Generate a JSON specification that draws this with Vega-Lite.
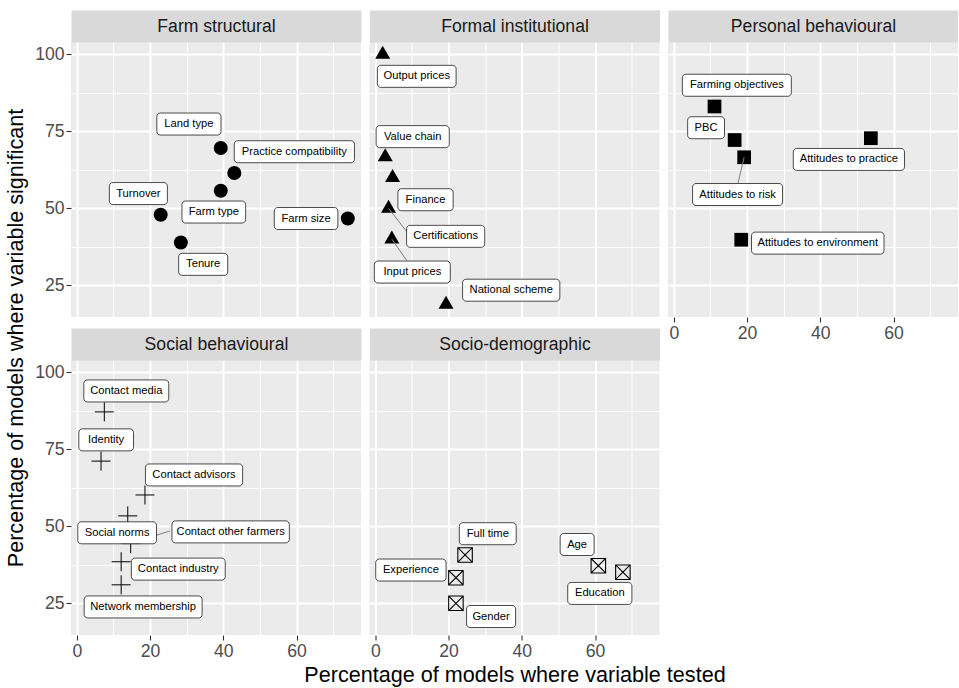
{
  "$schema": "https://vega.github.io/schema/vega-lite/v6.json",
  "padding": {"left": 0, "top": 17, "right": 0, "bottom": 0},
  "spacing": 0,
  "config": {
    "font": "Liberation Sans",
    "view": {"stroke": null},
    "axis": {
      "labelFont": "Liberation Sans", "titleFont": "Liberation Sans",
      "labelFontSize": 17.6, "labelColor": "#4D4D4D", "tickColor": "#333333",
      "tickSize": 5, "tickWidth": 1.1, "gridColor": "#FFFFFF", "domain": false,
      "labelFlush": false, "labelOverlap": false, "labelPadding": 2,
      "titleFontWeight": "normal"
    }
  },
  "datasets": {
    "pts": [
      {"cat": "Farm structural", "label": "Land type", "x": 39.3, "y": 69.6, "lx": 30.6, "ly": 77.4},
      {"cat": "Farm structural", "label": "Practice compatibility", "x": 43.0, "y": 61.5, "lx": 59.4, "ly": 68.4},
      {"cat": "Farm structural", "label": "Farm type", "x": 39.3, "y": 55.7, "lx": 37.4, "ly": 48.8},
      {"cat": "Farm structural", "label": "Turnover", "x": 22.9, "y": 47.9, "lx": 16.8, "ly": 54.8},
      {"cat": "Farm structural", "label": "Tenure", "x": 28.4, "y": 38.9, "lx": 34.5, "ly": 31.8},
      {"cat": "Farm structural", "label": "Farm size", "x": 74.0, "y": 46.7, "lx": 62.6, "ly": 46.7},
      {"cat": "Formal institutional", "label": "Output prices", "x": 2.0, "y": 100, "lx": 11.3, "ly": 92.9},
      {"cat": "Formal institutional", "label": "Value chain", "x": 2.7, "y": 66.7, "lx": 10.2, "ly": 73.3},
      {"cat": "Formal institutional", "label": "Finance", "x": 4.7, "y": 60.0, "lx": 13.7, "ly": 52.8},
      {"cat": "Formal institutional", "label": "Certifications", "x": 3.6, "y": 50.0, "lx": 19.2, "ly": 40.9, "sx": 8.6, "sy": 42.4},
      {"cat": "Formal institutional", "label": "Input prices", "x": 4.5, "y": 40.0, "lx": 10.1, "ly": 29.3, "sx": 8.6, "sy": 33.0},
      {"cat": "Formal institutional", "label": "National scheme", "x": 19.3, "y": 18.75, "lx": 37.1, "ly": 23.4},
      {"cat": "Personal behavioural", "label": "Farming objectives", "x": 11.1, "y": 83.1, "lx": 17.2, "ly": 90.0},
      {"cat": "Personal behavioural", "label": "PBC", "x": 16.6, "y": 72.2, "lx": 8.8, "ly": 76.2},
      {"cat": "Personal behavioural", "label": "Attitudes to risk", "x": 19.2, "y": 66.6, "lx": 17.4, "ly": 54.5, "sx": 17.5, "sy": 58.1},
      {"cat": "Personal behavioural", "label": "Attitudes to practice", "x": 53.8, "y": 72.8, "lx": 47.8, "ly": 65.9},
      {"cat": "Personal behavioural", "label": "Attitudes to environment", "x": 18.4, "y": 39.8, "lx": 39.3, "ly": 38.7},
      {"cat": "Social behavioural", "label": "Contact media", "x": 7.5, "y": 87.2, "lx": 13.5, "ly": 94.0},
      {"cat": "Social behavioural", "label": "Identity", "x": 6.6, "y": 71.2, "lx": 8.0, "ly": 78.1},
      {"cat": "Social behavioural", "label": "Contact advisors", "x": 18.6, "y": 60.2, "lx": 32.0, "ly": 66.7},
      {"cat": "Social behavioural", "label": "Social norms", "x": 13.9, "y": 53.4, "lx": 11.0, "ly": 47.9},
      {"cat": "Social behavioural", "label": "Contact other farmers", "x": 14.7, "y": 44.4, "lx": 42.0, "ly": 48.2, "sx": 25.4, "sy": 48.5},
      {"cat": "Social behavioural", "label": "Contact industry", "x": 12.1, "y": 38.5, "lx": 27.7, "ly": 36.1},
      {"cat": "Social behavioural", "label": "Network membership", "x": 12.1, "y": 31.0, "lx": 18.1, "ly": 23.8},
      {"cat": "Socio-demographic", "label": "Full time", "x": 24.5, "y": 40.7, "lx": 30.7, "ly": 47.6},
      {"cat": "Socio-demographic", "label": "Experience", "x": 22.0, "y": 33.3, "lx": 9.7, "ly": 35.8},
      {"cat": "Socio-demographic", "label": "Gender", "x": 22.0, "y": 25.0, "lx": 31.6, "ly": 20.7},
      {"cat": "Socio-demographic", "label": "Age", "x": 60.9, "y": 37.2, "lx": 55.1, "ly": 44.1},
      {"cat": "Socio-demographic", "label": "Education", "x": 67.6, "y": 35.1, "lx": 61.3, "ly": 28.2}
    ]
  },
  "hconcat": [
    {
      "width": 34, "height": 592,
      "data": {"values": [{"t": "Percentage of models where variable significant"}]},
      "mark": {"type": "text", "angle": 270, "fontSize": 21.6, "color": "#000000", "align": "center", "baseline": "middle"},
      "encoding": {"text": {"field": "t"}}
    },
    {
      "columns": 3,
      "spacing": {"row": 43, "column": 8.5},
      "bounds": "flush",
      "concat": [
        {
          "width": 290, "height": 275,
          "view": {"fill": "#EBEBEB", "stroke": null},
          "data": {"name": "pts"},
          "transform": [{"filter": {"field": "cat", "equal": "Farm structural"}}],
          "layer": [
            {"mark": {"type": "point", "shape": "circle", "filled": true, "color": "#000000", "opacity": 1, "size": 196},
             "encoding": {
               "x": {"field": "x", "type": "quantitative", "scale": {"domain": [-1.6, 77.6], "nice": false, "zero": false, "padding": 0},
                     "axis": {"orient": "bottom", "values": [0,10,20,30,40,50,60,70], "title": null, "labels": false, "ticks": false, "gridWidth": {"condition": {"test": "datum.value % 20 === 0", "value": 2}, "value": 1}}},
               "y": {"field": "y", "type": "quantitative", "scale": {"domain": [14.69, 104.06], "nice": false, "zero": false, "padding": 0},
                     "axis": {"orient": "left", "values": [25,37.5,50,62.5,75,87.5,100], "title": null, "labelExpr": "datum.value % 25 === 0 ? datum.label : ''", "tickOpacity": {"condition": {"test": "datum.value % 25 === 0", "value": 1}, "value": 0}, "gridWidth": {"condition": {"test": "datum.value % 25 === 0", "value": 2}, "value": 1}}}}},
            {"transform": [{"filter": "isValid(datum.sx)"}],
             "mark": {"type": "rule", "color": "#7F7F7F", "strokeWidth": 1},
             "encoding": {
               "x": {"field": "x", "type": "quantitative", "scale": {"domain": [-1.6, 77.6], "nice": false, "zero": false, "padding": 0}, "axis": null},
               "y": {"field": "y", "type": "quantitative", "scale": {"domain": [14.69, 104.06], "nice": false, "zero": false, "padding": 0},
                     "axis": {"orient": "left", "values": [25,37.5,50,62.5,75,87.5,100], "title": null, "labelExpr": "datum.value % 25 === 0 ? datum.label : ''", "tickOpacity": {"condition": {"test": "datum.value % 25 === 0", "value": 1}, "value": 0}, "gridWidth": {"condition": {"test": "datum.value % 25 === 0", "value": 2}, "value": 1}}},
               "x2": {"field": "sx"}, "y2": {"field": "sy"}}},
            {"mark": {"type": "bar", "orient": "vertical", "fill": "#FFFFFF", "stroke": "#000000", "strokeWidth": 0.7, "cornerRadius": 3.5, "yOffset": 11, "y2Offset": -11,
                      "size": {"expr": "11.2*(0.55*length(datum.label)-0.3*length(replace(datum.label,regexp('[^fijlrt ]','g'),''))+0.25*length(replace(datum.label,regexp('[^mw]','g'),''))+0.13*length(replace(datum.label,regexp('[^A-Z]','g'),'')))+14"}},
             "encoding": {
               "x": {"field": "lx", "type": "quantitative", "scale": {"domain": [-1.6, 77.6], "nice": false, "zero": false, "padding": 0}, "axis": null},
               "y": {"field": "ly", "type": "quantitative", "scale": {"domain": [14.69, 104.06], "nice": false, "zero": false, "padding": 0},
                     "axis": {"orient": "left", "values": [25,37.5,50,62.5,75,87.5,100], "title": null, "labelExpr": "datum.value % 25 === 0 ? datum.label : ''", "tickOpacity": {"condition": {"test": "datum.value % 25 === 0", "value": 1}, "value": 0}, "gridWidth": {"condition": {"test": "datum.value % 25 === 0", "value": 2}, "value": 1}}},
               "y2": {"field": "ly"}}},
            {"mark": {"type": "text", "fontSize": 11.2, "color": "#000000", "align": "center", "baseline": "middle"},
             "encoding": {
               "x": {"field": "lx", "type": "quantitative", "scale": {"domain": [-1.6, 77.6], "nice": false, "zero": false, "padding": 0},
                     "axis": {"orient": "top", "title": "Farm structural", "labels": false, "ticks": false, "grid": false, "domain": true, "domainColor": "#D9D9D9", "domainWidth": 32, "domainCap": "butt", "offset": 16, "minExtent": 0, "titleFontSize": 17.6, "titleColor": "#1A1A1A", "titlePadding": 0, "titleBaseline": "middle"}},
               "y": {"field": "ly", "type": "quantitative", "scale": {"domain": [14.69, 104.06], "nice": false, "zero": false, "padding": 0},
                     "axis": {"orient": "left", "values": [25,37.5,50,62.5,75,87.5,100], "title": null, "labelExpr": "datum.value % 25 === 0 ? datum.label : ''", "tickOpacity": {"condition": {"test": "datum.value % 25 === 0", "value": 1}, "value": 0}, "gridWidth": {"condition": {"test": "datum.value % 25 === 0", "value": 2}, "value": 1}}},
               "text": {"field": "label"}}}
          ],
          "resolve": {"axis": {"x": "independent"}}
        },
        {
          "width": 290, "height": 275,
          "view": {"fill": "#EBEBEB", "stroke": null},
          "data": {"name": "pts"},
          "transform": [{"filter": {"field": "cat", "equal": "Formal institutional"}}],
          "layer": [
            {"mark": {"type": "point", "shape": "M0,-1.155L1,0.577L-1,0.577Z", "filled": true, "color": "#000000", "opacity": 1, "size": 225},
             "encoding": {
               "x": {"field": "x", "type": "quantitative", "scale": {"domain": [-1.6, 77.6], "nice": false, "zero": false, "padding": 0},
                     "axis": {"orient": "bottom", "values": [0,10,20,30,40,50,60,70], "title": null, "labels": false, "ticks": false, "gridWidth": {"condition": {"test": "datum.value % 20 === 0", "value": 2}, "value": 1}}},
               "y": {"field": "y", "type": "quantitative", "scale": {"domain": [14.69, 104.06], "nice": false, "zero": false, "padding": 0},
                     "axis": {"orient": "left", "values": [25,37.5,50,62.5,75,87.5,100], "title": null, "labels": false, "ticks": false, "gridWidth": {"condition": {"test": "datum.value % 25 === 0", "value": 2}, "value": 1}}}}},
            {"transform": [{"filter": "isValid(datum.sx)"}],
             "mark": {"type": "rule", "color": "#7F7F7F", "strokeWidth": 1},
             "encoding": {
               "x": {"field": "x", "type": "quantitative", "scale": {"domain": [-1.6, 77.6], "nice": false, "zero": false, "padding": 0}, "axis": null},
               "y": {"field": "y", "type": "quantitative", "scale": {"domain": [14.69, 104.06], "nice": false, "zero": false, "padding": 0},
                     "axis": {"orient": "left", "values": [25,37.5,50,62.5,75,87.5,100], "title": null, "labels": false, "ticks": false, "gridWidth": {"condition": {"test": "datum.value % 25 === 0", "value": 2}, "value": 1}}},
               "x2": {"field": "sx"}, "y2": {"field": "sy"}}},
            {"mark": {"type": "bar", "orient": "vertical", "fill": "#FFFFFF", "stroke": "#000000", "strokeWidth": 0.7, "cornerRadius": 3.5, "yOffset": 11, "y2Offset": -11,
                      "size": {"expr": "11.2*(0.55*length(datum.label)-0.3*length(replace(datum.label,regexp('[^fijlrt ]','g'),''))+0.25*length(replace(datum.label,regexp('[^mw]','g'),''))+0.13*length(replace(datum.label,regexp('[^A-Z]','g'),'')))+14"}},
             "encoding": {
               "x": {"field": "lx", "type": "quantitative", "scale": {"domain": [-1.6, 77.6], "nice": false, "zero": false, "padding": 0}, "axis": null},
               "y": {"field": "ly", "type": "quantitative", "scale": {"domain": [14.69, 104.06], "nice": false, "zero": false, "padding": 0},
                     "axis": {"orient": "left", "values": [25,37.5,50,62.5,75,87.5,100], "title": null, "labels": false, "ticks": false, "gridWidth": {"condition": {"test": "datum.value % 25 === 0", "value": 2}, "value": 1}}},
               "y2": {"field": "ly"}}},
            {"mark": {"type": "text", "fontSize": 11.2, "color": "#000000", "align": "center", "baseline": "middle"},
             "encoding": {
               "x": {"field": "lx", "type": "quantitative", "scale": {"domain": [-1.6, 77.6], "nice": false, "zero": false, "padding": 0},
                     "axis": {"orient": "top", "title": "Formal institutional", "labels": false, "ticks": false, "grid": false, "domain": true, "domainColor": "#D9D9D9", "domainWidth": 32, "domainCap": "butt", "offset": 16, "minExtent": 0, "titleFontSize": 17.6, "titleColor": "#1A1A1A", "titlePadding": 0, "titleBaseline": "middle"}},
               "y": {"field": "ly", "type": "quantitative", "scale": {"domain": [14.69, 104.06], "nice": false, "zero": false, "padding": 0},
                     "axis": {"orient": "left", "values": [25,37.5,50,62.5,75,87.5,100], "title": null, "labels": false, "ticks": false, "gridWidth": {"condition": {"test": "datum.value % 25 === 0", "value": 2}, "value": 1}}},
               "text": {"field": "label"}}}
          ],
          "resolve": {"axis": {"x": "independent"}}
        },
        {
          "width": 290, "height": 275,
          "view": {"fill": "#EBEBEB", "stroke": null},
          "data": {"name": "pts"},
          "transform": [{"filter": {"field": "cat", "equal": "Personal behavioural"}}],
          "layer": [
            {"mark": {"type": "point", "shape": "square", "filled": true, "color": "#000000", "opacity": 1, "size": 188},
             "encoding": {
               "x": {"field": "x", "type": "quantitative", "scale": {"domain": [-1.6, 77.6], "nice": false, "zero": false, "padding": 0},
                     "axis": {"orient": "bottom", "values": [0,10,20,30,40,50,60,70], "title": null, "labelExpr": "datum.value % 20 === 0 ? datum.label : ''", "tickOpacity": {"condition": {"test": "datum.value % 20 === 0", "value": 1}, "value": 0}, "gridWidth": {"condition": {"test": "datum.value % 20 === 0", "value": 2}, "value": 1}}},
               "y": {"field": "y", "type": "quantitative", "scale": {"domain": [14.69, 104.06], "nice": false, "zero": false, "padding": 0},
                     "axis": {"orient": "left", "values": [25,37.5,50,62.5,75,87.5,100], "title": null, "labels": false, "ticks": false, "gridWidth": {"condition": {"test": "datum.value % 25 === 0", "value": 2}, "value": 1}}}}},
            {"transform": [{"filter": "isValid(datum.sx)"}],
             "mark": {"type": "rule", "color": "#7F7F7F", "strokeWidth": 1},
             "encoding": {
               "x": {"field": "x", "type": "quantitative", "scale": {"domain": [-1.6, 77.6], "nice": false, "zero": false, "padding": 0}, "axis": null},
               "y": {"field": "y", "type": "quantitative", "scale": {"domain": [14.69, 104.06], "nice": false, "zero": false, "padding": 0},
                     "axis": {"orient": "left", "values": [25,37.5,50,62.5,75,87.5,100], "title": null, "labels": false, "ticks": false, "gridWidth": {"condition": {"test": "datum.value % 25 === 0", "value": 2}, "value": 1}}},
               "x2": {"field": "sx"}, "y2": {"field": "sy"}}},
            {"mark": {"type": "bar", "orient": "vertical", "fill": "#FFFFFF", "stroke": "#000000", "strokeWidth": 0.7, "cornerRadius": 3.5, "yOffset": 11, "y2Offset": -11,
                      "size": {"expr": "11.2*(0.55*length(datum.label)-0.3*length(replace(datum.label,regexp('[^fijlrt ]','g'),''))+0.25*length(replace(datum.label,regexp('[^mw]','g'),''))+0.13*length(replace(datum.label,regexp('[^A-Z]','g'),'')))+14"}},
             "encoding": {
               "x": {"field": "lx", "type": "quantitative", "scale": {"domain": [-1.6, 77.6], "nice": false, "zero": false, "padding": 0}, "axis": null},
               "y": {"field": "ly", "type": "quantitative", "scale": {"domain": [14.69, 104.06], "nice": false, "zero": false, "padding": 0},
                     "axis": {"orient": "left", "values": [25,37.5,50,62.5,75,87.5,100], "title": null, "labels": false, "ticks": false, "gridWidth": {"condition": {"test": "datum.value % 25 === 0", "value": 2}, "value": 1}}},
               "y2": {"field": "ly"}}},
            {"mark": {"type": "text", "fontSize": 11.2, "color": "#000000", "align": "center", "baseline": "middle"},
             "encoding": {
               "x": {"field": "lx", "type": "quantitative", "scale": {"domain": [-1.6, 77.6], "nice": false, "zero": false, "padding": 0},
                     "axis": {"orient": "top", "title": "Personal behavioural", "labels": false, "ticks": false, "grid": false, "domain": true, "domainColor": "#D9D9D9", "domainWidth": 32, "domainCap": "butt", "offset": 16, "minExtent": 0, "titleFontSize": 17.6, "titleColor": "#1A1A1A", "titlePadding": 0, "titleBaseline": "middle"}},
               "y": {"field": "ly", "type": "quantitative", "scale": {"domain": [14.69, 104.06], "nice": false, "zero": false, "padding": 0},
                     "axis": {"orient": "left", "values": [25,37.5,50,62.5,75,87.5,100], "title": null, "labels": false, "ticks": false, "gridWidth": {"condition": {"test": "datum.value % 25 === 0", "value": 2}, "value": 1}}},
               "text": {"field": "label"}}}
          ],
          "resolve": {"axis": {"x": "independent"}}
        },
        {
          "width": 290, "height": 275,
          "view": {"fill": "#EBEBEB", "stroke": null},
          "data": {"name": "pts"},
          "transform": [{"filter": {"field": "cat", "equal": "Social behavioural"}}],
          "layer": [
            {"mark": {"type": "point", "shape": "M-1,0H1M0,-1V1", "filled": false, "color": "#000000", "opacity": 1, "strokeWidth": 1, "size": 361},
             "encoding": {
               "x": {"field": "x", "type": "quantitative", "scale": {"domain": [-1.6, 77.6], "nice": false, "zero": false, "padding": 0},
                     "axis": {"orient": "bottom", "values": [0,10,20,30,40,50,60,70], "title": null, "labelExpr": "datum.value % 20 === 0 ? datum.label : ''", "tickOpacity": {"condition": {"test": "datum.value % 20 === 0", "value": 1}, "value": 0}, "gridWidth": {"condition": {"test": "datum.value % 20 === 0", "value": 2}, "value": 1}}},
               "y": {"field": "y", "type": "quantitative", "scale": {"domain": [14.69, 104.06], "nice": false, "zero": false, "padding": 0},
                     "axis": {"orient": "left", "values": [25,37.5,50,62.5,75,87.5,100], "title": null, "labelExpr": "datum.value % 25 === 0 ? datum.label : ''", "tickOpacity": {"condition": {"test": "datum.value % 25 === 0", "value": 1}, "value": 0}, "gridWidth": {"condition": {"test": "datum.value % 25 === 0", "value": 2}, "value": 1}}}}},
            {"transform": [{"filter": "isValid(datum.sx)"}],
             "mark": {"type": "rule", "color": "#7F7F7F", "strokeWidth": 1},
             "encoding": {
               "x": {"field": "x", "type": "quantitative", "scale": {"domain": [-1.6, 77.6], "nice": false, "zero": false, "padding": 0}, "axis": null},
               "y": {"field": "y", "type": "quantitative", "scale": {"domain": [14.69, 104.06], "nice": false, "zero": false, "padding": 0},
                     "axis": {"orient": "left", "values": [25,37.5,50,62.5,75,87.5,100], "title": null, "labelExpr": "datum.value % 25 === 0 ? datum.label : ''", "tickOpacity": {"condition": {"test": "datum.value % 25 === 0", "value": 1}, "value": 0}, "gridWidth": {"condition": {"test": "datum.value % 25 === 0", "value": 2}, "value": 1}}},
               "x2": {"field": "sx"}, "y2": {"field": "sy"}}},
            {"mark": {"type": "bar", "orient": "vertical", "fill": "#FFFFFF", "stroke": "#000000", "strokeWidth": 0.7, "cornerRadius": 3.5, "yOffset": 11, "y2Offset": -11,
                      "size": {"expr": "11.2*(0.55*length(datum.label)-0.3*length(replace(datum.label,regexp('[^fijlrt ]','g'),''))+0.25*length(replace(datum.label,regexp('[^mw]','g'),''))+0.13*length(replace(datum.label,regexp('[^A-Z]','g'),'')))+14"}},
             "encoding": {
               "x": {"field": "lx", "type": "quantitative", "scale": {"domain": [-1.6, 77.6], "nice": false, "zero": false, "padding": 0}, "axis": null},
               "y": {"field": "ly", "type": "quantitative", "scale": {"domain": [14.69, 104.06], "nice": false, "zero": false, "padding": 0},
                     "axis": {"orient": "left", "values": [25,37.5,50,62.5,75,87.5,100], "title": null, "labelExpr": "datum.value % 25 === 0 ? datum.label : ''", "tickOpacity": {"condition": {"test": "datum.value % 25 === 0", "value": 1}, "value": 0}, "gridWidth": {"condition": {"test": "datum.value % 25 === 0", "value": 2}, "value": 1}}},
               "y2": {"field": "ly"}}},
            {"mark": {"type": "text", "fontSize": 11.2, "color": "#000000", "align": "center", "baseline": "middle"},
             "encoding": {
               "x": {"field": "lx", "type": "quantitative", "scale": {"domain": [-1.6, 77.6], "nice": false, "zero": false, "padding": 0},
                     "axis": {"orient": "top", "title": "Social behavioural", "labels": false, "ticks": false, "grid": false, "domain": true, "domainColor": "#D9D9D9", "domainWidth": 32, "domainCap": "butt", "offset": 16, "minExtent": 0, "titleFontSize": 17.6, "titleColor": "#1A1A1A", "titlePadding": 0, "titleBaseline": "middle"}},
               "y": {"field": "ly", "type": "quantitative", "scale": {"domain": [14.69, 104.06], "nice": false, "zero": false, "padding": 0},
                     "axis": {"orient": "left", "values": [25,37.5,50,62.5,75,87.5,100], "title": null, "labelExpr": "datum.value % 25 === 0 ? datum.label : ''", "tickOpacity": {"condition": {"test": "datum.value % 25 === 0", "value": 1}, "value": 0}, "gridWidth": {"condition": {"test": "datum.value % 25 === 0", "value": 2}, "value": 1}}},
               "text": {"field": "label"}}}
          ],
          "resolve": {"axis": {"x": "independent"}}
        },
        {
          "width": 290, "height": 275,
          "view": {"fill": "#EBEBEB", "stroke": null},
          "data": {"name": "pts"},
          "transform": [{"filter": {"field": "cat", "equal": "Socio-demographic"}}],
          "layer": [
            {"mark": {"type": "point", "shape": "M-1,-1H1V1H-1ZM-1,-1L1,1M1,-1L-1,1", "filled": false, "color": "#000000", "opacity": 1, "strokeWidth": 1.1, "size": 210},
             "encoding": {
               "x": {"field": "x", "type": "quantitative", "scale": {"domain": [-1.6, 77.6], "nice": false, "zero": false, "padding": 0},
                     "axis": {"orient": "bottom", "values": [0,10,20,30,40,50,60,70], "title": "Percentage of models where variable tested", "titleFontSize": 21.6, "titleColor": "#000000", "titlePadding": 5, "labelExpr": "datum.value % 20 === 0 ? datum.label : ''", "tickOpacity": {"condition": {"test": "datum.value % 20 === 0", "value": 1}, "value": 0}, "gridWidth": {"condition": {"test": "datum.value % 20 === 0", "value": 2}, "value": 1}}},
               "y": {"field": "y", "type": "quantitative", "scale": {"domain": [14.69, 104.06], "nice": false, "zero": false, "padding": 0},
                     "axis": {"orient": "left", "values": [25,37.5,50,62.5,75,87.5,100], "title": null, "labels": false, "ticks": false, "gridWidth": {"condition": {"test": "datum.value % 25 === 0", "value": 2}, "value": 1}}}}},
            {"transform": [{"filter": "isValid(datum.sx)"}],
             "mark": {"type": "rule", "color": "#7F7F7F", "strokeWidth": 1},
             "encoding": {
               "x": {"field": "x", "type": "quantitative", "scale": {"domain": [-1.6, 77.6], "nice": false, "zero": false, "padding": 0}, "axis": null},
               "y": {"field": "y", "type": "quantitative", "scale": {"domain": [14.69, 104.06], "nice": false, "zero": false, "padding": 0},
                     "axis": {"orient": "left", "values": [25,37.5,50,62.5,75,87.5,100], "title": null, "labels": false, "ticks": false, "gridWidth": {"condition": {"test": "datum.value % 25 === 0", "value": 2}, "value": 1}}},
               "x2": {"field": "sx"}, "y2": {"field": "sy"}}},
            {"mark": {"type": "bar", "orient": "vertical", "fill": "#FFFFFF", "stroke": "#000000", "strokeWidth": 0.7, "cornerRadius": 3.5, "yOffset": 11, "y2Offset": -11,
                      "size": {"expr": "11.2*(0.55*length(datum.label)-0.3*length(replace(datum.label,regexp('[^fijlrt ]','g'),''))+0.25*length(replace(datum.label,regexp('[^mw]','g'),''))+0.13*length(replace(datum.label,regexp('[^A-Z]','g'),'')))+14"}},
             "encoding": {
               "x": {"field": "lx", "type": "quantitative", "scale": {"domain": [-1.6, 77.6], "nice": false, "zero": false, "padding": 0}, "axis": null},
               "y": {"field": "ly", "type": "quantitative", "scale": {"domain": [14.69, 104.06], "nice": false, "zero": false, "padding": 0},
                     "axis": {"orient": "left", "values": [25,37.5,50,62.5,75,87.5,100], "title": null, "labels": false, "ticks": false, "gridWidth": {"condition": {"test": "datum.value % 25 === 0", "value": 2}, "value": 1}}},
               "y2": {"field": "ly"}}},
            {"mark": {"type": "text", "fontSize": 11.2, "color": "#000000", "align": "center", "baseline": "middle"},
             "encoding": {
               "x": {"field": "lx", "type": "quantitative", "scale": {"domain": [-1.6, 77.6], "nice": false, "zero": false, "padding": 0},
                     "axis": {"orient": "top", "title": "Socio-demographic", "labels": false, "ticks": false, "grid": false, "domain": true, "domainColor": "#D9D9D9", "domainWidth": 32, "domainCap": "butt", "offset": 16, "minExtent": 0, "titleFontSize": 17.6, "titleColor": "#1A1A1A", "titlePadding": 0, "titleBaseline": "middle"}},
               "y": {"field": "ly", "type": "quantitative", "scale": {"domain": [14.69, 104.06], "nice": false, "zero": false, "padding": 0},
                     "axis": {"orient": "left", "values": [25,37.5,50,62.5,75,87.5,100], "title": null, "labels": false, "ticks": false, "gridWidth": {"condition": {"test": "datum.value % 25 === 0", "value": 2}, "value": 1}}},
               "text": {"field": "label"}}}
          ],
          "resolve": {"axis": {"x": "independent"}}
        }
      ]
    }
  ]
}
